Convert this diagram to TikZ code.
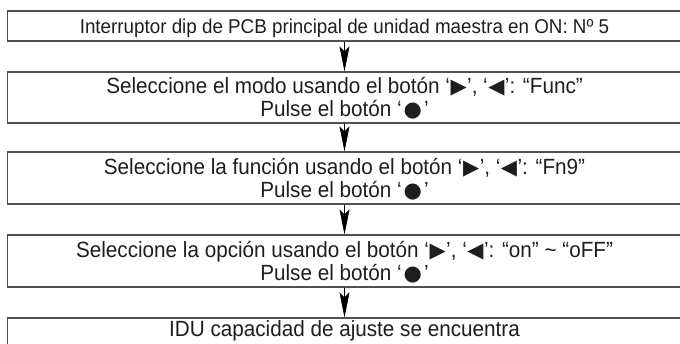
\documentclass[tikz,border=0pt]{standalone}
\usepackage{fontspec}
\setmainfont[FakeStretch=0.94]{Liberation Sans}
\newfontfamily\symf{DejaVu Sans}
\usetikzlibrary{arrows.meta}
\definecolor{boxline}{HTML}{505050}
\definecolor{txt}{HTML}{1E1E1E}
\newcommand{\rt}{\hspace{0.5pt}{\symf\fontsize{21}{21}\selectfont ▶}\hspace{0.5pt}}
\newcommand{\lt}{\hspace{0.5pt}{\symf\fontsize{21}{21}\selectfont ◀}\hspace{0.5pt}}
\newcommand{\dt}{\hspace{2pt}{\symf\fontsize{21}{21}\selectfont ●}\hspace{2pt}}
\begin{document}
\begin{tikzpicture}[x=1pt,y=-1pt,
  boxn/.style={draw=boxline, line width=1.3pt, minimum width=674pt, inner sep=0pt},
  lbl/.style={anchor=base, inner sep=0pt, text=txt, font=\fontsize{22}{25}\selectfont},
  lblsmall/.style={lbl, font=\fontsize{20}{23}\selectfont},
  flow/.style={draw=black, line width=0.6pt, -{Stealth[length=25pt,width=10pt,inset=5pt]}}]
\useasboundingbox (0,0) rectangle (680,343);
\clip (0,0) rectangle (680,343);
\node[boxn, minimum height=30pt] (b1) at (344.5,26) {};
\node[boxn, minimum height=51pt] (b2) at (344.5,97.5) {};
\node[boxn, minimum height=52pt] (b3) at (344.5,178) {};
\node[boxn, minimum height=52pt] (b4) at (344.5,261) {};
\node[boxn, minimum height=52pt] (b5) at (344.5,344) {};
\node[lblsmall] (t1) at (344.5,33) {Interruptor dip de PCB principal de unidad maestra en ON: Nº 5};
\node[lbl] (t2a) at (344.5,93.3) {Seleccione el modo usando el botón ‘\rt’, ‘\lt’: “Func”};
\node[lbl] (t2b) at (344.5,116.7) {Pulse el botón ‘\dt’};
\node[lbl] (t3a) at (344.5,174) {Seleccione la función usando el botón ‘\rt’, ‘\lt’: “Fn9”};
\node[lbl] (t3b) at (344.5,197.3) {Pulse el botón ‘\dt’};
\node[lbl] (t4a) at (344.5,257) {Seleccione la opción usando el botón ‘\rt’, ‘\lt’: “on” \textasciitilde{} “oFF”};
\node[lbl] (t4b) at (344.5,280.3) {Pulse el botón ‘\dt’};
\node[lbl] (t5) at (344.5,336) {IDU capacidad de ajuste se encuentra};
\draw[flow] (b1.south) -- (b2.north);
\draw[flow] (b2.south) -- (b3.north);
\draw[flow] (b3.south) -- (b4.north);
\draw[flow] (b4.south) -- (b5.north);
\end{tikzpicture}
\end{document}
